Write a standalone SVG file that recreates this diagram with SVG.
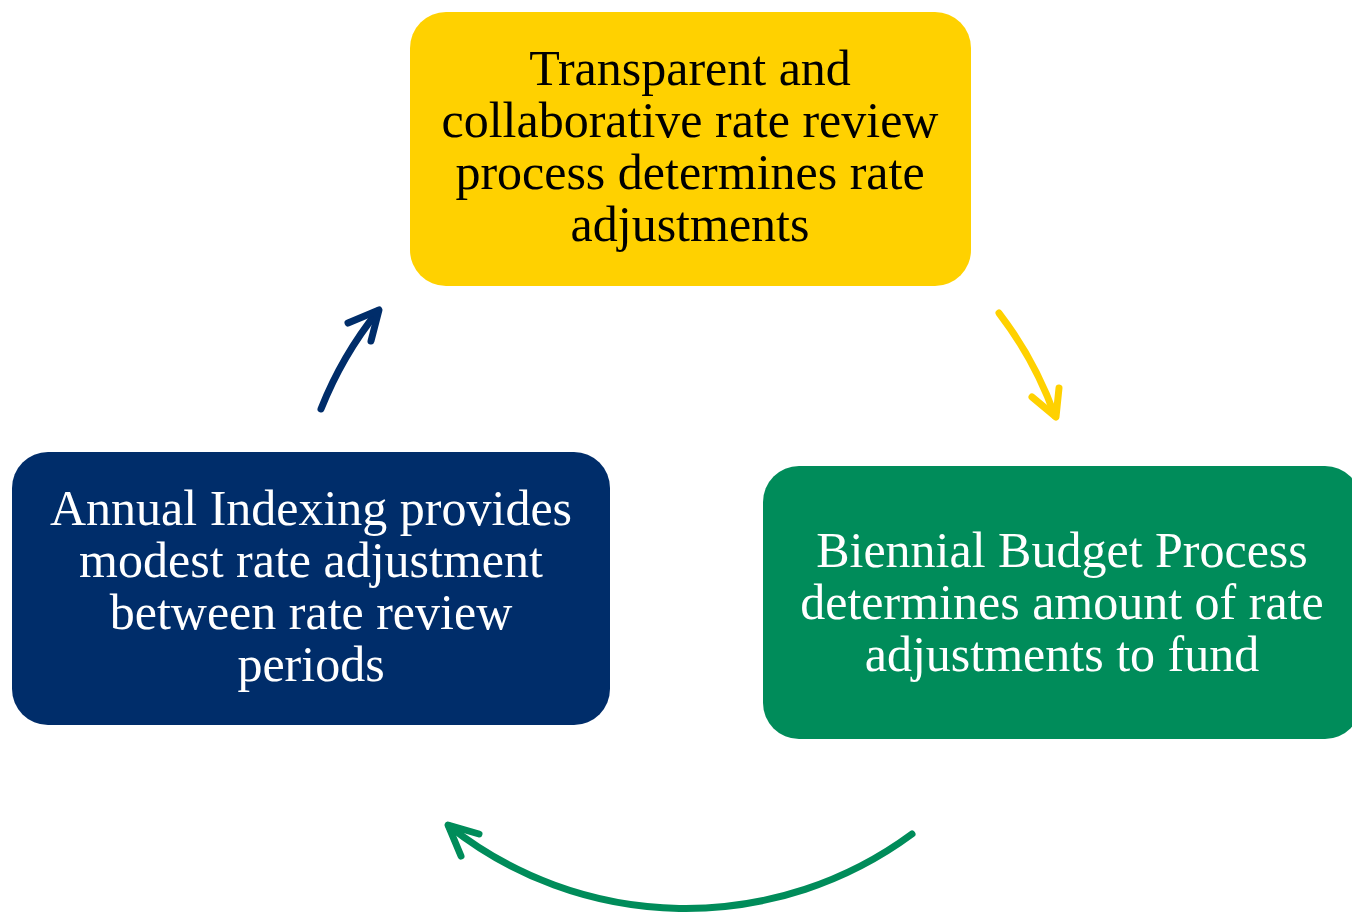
<svg xmlns="http://www.w3.org/2000/svg" width="1352" height="912" viewBox="0 0 1352 912">
  <style>
    .lbl { font-family: "Liberation Serif", "Times New Roman", serif; font-size: 50px; text-anchor: middle; }
    .dark { fill: #000000; }
    .light { fill: #ffffff; }
    .conn { fill: none; stroke-width: 7; stroke-linecap: round; stroke-linejoin: round; }
  </style>
  <rect width="1352" height="912" fill="#ffffff"/>
  <g id="node-review">
    <rect x="410" y="12" width="561" height="274" rx="36" fill="#FFD100"/>
    <text class="lbl dark" x="690" y="85">Transparent and</text>
    <text class="lbl dark" x="690" y="137">collaborative rate review</text>
    <text class="lbl dark" x="690" y="189">process determines rate</text>
    <text class="lbl dark" x="690" y="241">adjustments</text>
  </g>
  <g id="node-budget">
    <rect x="763" y="466" width="598" height="273" rx="36" fill="#008C5A"/>
    <text class="lbl light" x="1062" y="567">Biennial Budget Process</text>
    <text class="lbl light" x="1062" y="619">determines amount of rate</text>
    <text class="lbl light" x="1062" y="671">adjustments to fund</text>
  </g>
  <g id="node-indexing">
    <rect x="12" y="452" width="598" height="273" rx="36" fill="#002D6A"/>
    <text class="lbl light" x="311" y="525">Annual Indexing provides</text>
    <text class="lbl light" x="311" y="577">modest rate adjustment</text>
    <text class="lbl light" x="311" y="629">between rate review</text>
    <text class="lbl light" x="311" y="681">periods</text>
  </g>
  <g id="connectors">
    <g stroke="#002D6A">
      <path class="conn" d="M 321 409 A 381 381 0 0 1 378 311"/>
      <polyline class="conn" points="348,323 379,310 371,341"/>
    </g>
    <g stroke="#FFD100">
      <path class="conn" d="M 999 313 A 381 381 0 0 1 1055 416"/>
      <polyline class="conn" points="1032,397 1056,417 1059,388"/>
    </g>
    <g stroke="#008C5A">
      <path class="conn" d="M 912 834 A 381 381 0 0 1 449 826"/>
      <polyline class="conn" points="479,834 448,825 461,856"/>
    </g>
  </g>
</svg>
